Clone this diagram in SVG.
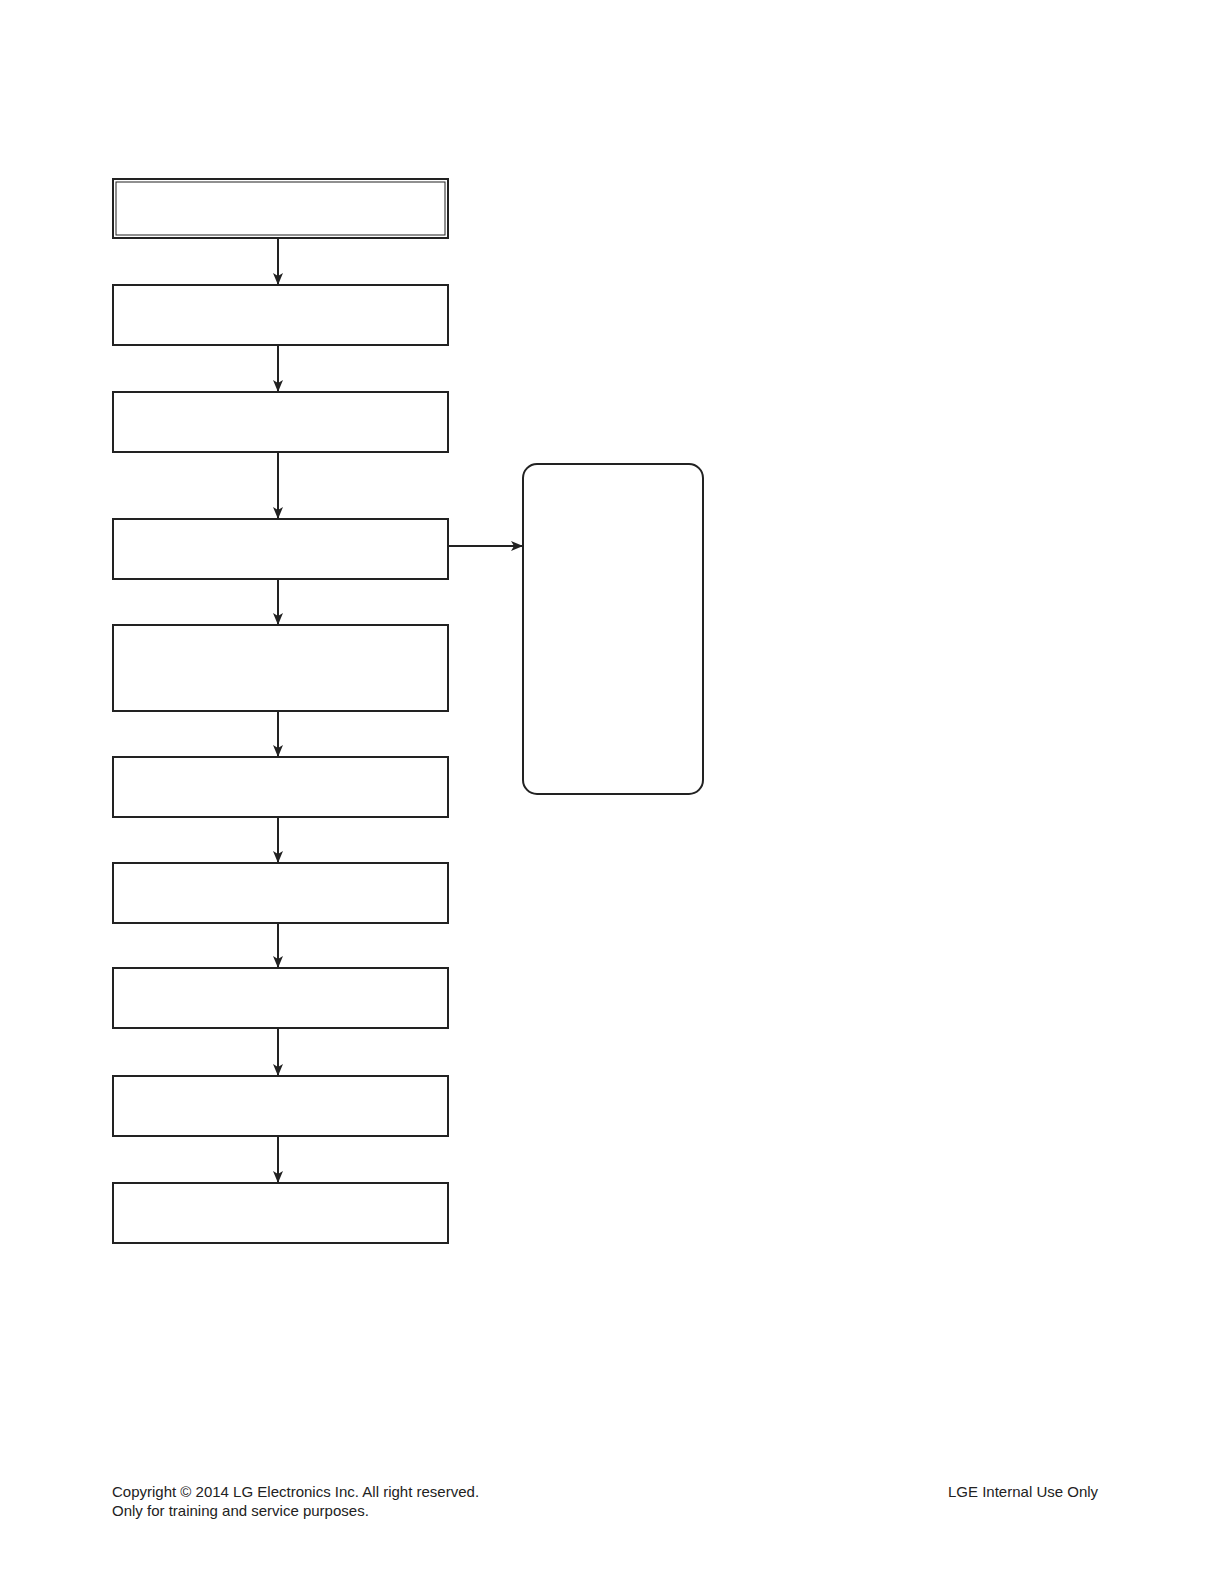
<svg xmlns="http://www.w3.org/2000/svg" width="1224" height="1584" viewBox="0 0 1224 1584">
<style>
.box{fill:#fff;stroke:#222;stroke-width:2}
.in{fill:none;stroke:#222;stroke-width:1}
.con{fill:none;stroke:#222;stroke-width:2}
.ft{font-family:"Liberation Sans",Arial,sans-serif;font-size:15px;fill:#222}
</style>
<defs>
<marker id="ah" markerWidth="12" markerHeight="10" refX="11" refY="5" orient="auto" markerUnits="userSpaceOnUse">
<path d="M0,0 L12,5 L0,10 L3,5 Z" fill="#222"/>
</marker>
</defs>
<rect width="1224" height="1584" fill="#fff"/>
<g id="connectors">
<line class="con" x1="278" y1="239" x2="278" y2="284" marker-end="url(#ah)"/>
<line class="con" x1="278" y1="346" x2="278" y2="391" marker-end="url(#ah)"/>
<line class="con" x1="278" y1="453" x2="278" y2="518" marker-end="url(#ah)"/>
<line class="con" x1="278" y1="580" x2="278" y2="624" marker-end="url(#ah)"/>
<line class="con" x1="278" y1="712" x2="278" y2="756" marker-end="url(#ah)"/>
<line class="con" x1="278" y1="818" x2="278" y2="862" marker-end="url(#ah)"/>
<line class="con" x1="278" y1="924" x2="278" y2="967" marker-end="url(#ah)"/>
<line class="con" x1="278" y1="1029" x2="278" y2="1075" marker-end="url(#ah)"/>
<line class="con" x1="278" y1="1137" x2="278" y2="1182" marker-end="url(#ah)"/>
<line class="con" x1="449" y1="546" x2="522" y2="546" marker-end="url(#ah)"/>
</g>
<g id="n1"><rect class="box" x="113" y="179" width="335" height="59"/><rect class="in" x="116" y="182" width="329" height="53"/></g>
<g id="n2"><rect class="box" x="113" y="285" width="335" height="60"/></g>
<g id="n3"><rect class="box" x="113" y="392" width="335" height="60"/></g>
<g id="n4"><rect class="box" x="113" y="519" width="335" height="60"/></g>
<g id="n5"><rect class="box" x="113" y="625" width="335" height="86"/></g>
<g id="n6"><rect class="box" x="113" y="757" width="335" height="60"/></g>
<g id="n7"><rect class="box" x="113" y="863" width="335" height="60"/></g>
<g id="n8"><rect class="box" x="113" y="968" width="335" height="60"/></g>
<g id="n9"><rect class="box" x="113" y="1076" width="335" height="60"/></g>
<g id="n10"><rect class="box" x="113" y="1183" width="335" height="60"/></g>
<g id="n11"><rect class="box" x="523" y="464" width="180" height="330" rx="14" ry="14"/></g>
<g id="footer">
<text class="ft" x="112" y="1497">Copyright © 2014 LG Electronics Inc. All right reserved.</text>
<text class="ft" x="112" y="1516">Only for training and service purposes.</text>
<text class="ft" x="948" y="1497">LGE Internal Use Only</text>
</g>
</svg>
